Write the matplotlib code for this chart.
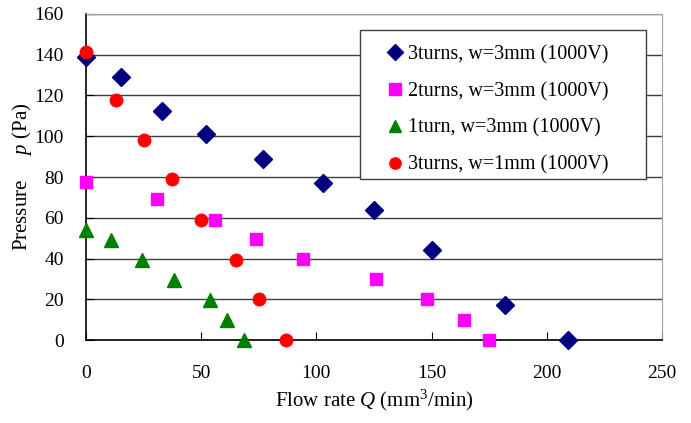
import matplotlib
matplotlib.use('Agg')
import matplotlib.pyplot as plt
from matplotlib.patches import Rectangle

plt.rcParams['font.family'] = 'Liberation Serif'
plt.rcParams['mathtext.fontset'] = 'custom'
plt.rcParams['mathtext.rm'] = 'Liberation Serif'
plt.rcParams['mathtext.it'] = 'Liberation Serif:italic'

# 3turns, w=3mm
q_3t3 = [0, 15, 33, 52, 77, 103, 125, 150, 182, 209]
p_3t3 = [139, 129, 112.5, 101, 89, 77, 64, 44, 17, 0]
# 2turns, w=3mm
q_2t3 = [0, 31, 56, 74, 94, 126, 148, 164, 175]
p_2t3 = [77.5, 69, 59, 49.5, 40, 30, 20, 10, 0]
# 1turn, w=3mm
q_1t3 = [0, 11, 24.5, 38, 54, 61, 68.5]
p_1t3 = [54, 49, 39.5, 29.5, 19.5, 10, 0]
# 3turns, w=1mm
q_3t1 = [0, 13, 25, 37.5, 50, 65, 75, 87]
p_3t1 = [141.5, 118, 98, 79, 59, 39.5, 20, 0]

labels = ['3turns, w=3mm (1000V)', '2turns, w=3mm (1000V)',
          '1turn, w=3mm (1000V)', '3turns, w=1mm (1000V)']

W, H = 691, 423
fig = plt.figure(figsize=(W / 100, H / 100), dpi=100)
ax = fig.add_axes([86 / W, 1 - 340 / H, 576 / W, 326 / H])

ax.plot(q_3t3, p_3t3, 'D', color='#000080', ms=9, label=labels[0], clip_on=False, zorder=3)
ax.plot(q_2t3, p_2t3, 's', color='#ff00ff', ms=9, label=labels[1], clip_on=False, zorder=3)
ax.plot(q_1t3, p_1t3, '^', color='#008000', ms=10, label=labels[2], clip_on=False, zorder=3)
ax.plot(q_3t1, p_3t1, 'o', color='#ff0000', ms=9, label=labels[3], clip_on=False, zorder=4)

ax.set_xlim(0, 250)
ax.set_ylim(0, 160)
ax.set_xticks(range(0, 251, 50))
ax.set_yticks(range(0, 161, 20))
ax.yaxis.grid(True, color='#404040', lw=1)
ax.set_axisbelow(True)

for s in ['top', 'right']:
    ax.spines[s].set_color('#a0a0a0')
for s in ['left', 'bottom']:
    ax.spines[s].set_color('black')
    ax.spines[s].set_linewidth(1.2)

ax.tick_params(axis='x', direction='in', length=6, pad=18, labelsize=14)
ax.tick_params(axis='y', direction='in', length=6, pad=16, labelsize=14)
ax.tick_params(top=False, right=False)

ax.set_xlabel(r'Flow rate $Q$ (mm$^3$/min)', fontsize=15, labelpad=4)
ax.set_ylabel(r'Pressure     $p$ (Pa)', fontsize=15, labelpad=0)

# legend box drawn by hand (Excel-style padding)
ax.add_patch(Rectangle((360 / W, 1 - 179 / H), 286 / W, 149 / H,
                       transform=fig.transFigure, facecolor='white',
                       edgecolor='#404040', lw=1, zorder=5, clip_on=False))
leg = ax.legend(loc='upper left', bbox_to_anchor=(387 / W, 1 - 45 / H),
                bbox_transform=fig.transFigure, fontsize=14.5, frameon=False,
                handlelength=0.8, handletextpad=0.25, labelspacing=0.87,
                borderpad=0, borderaxespad=0, markerscale=0.9)
leg.set_zorder(6)

fig.savefig('out.png', dpi=100)
